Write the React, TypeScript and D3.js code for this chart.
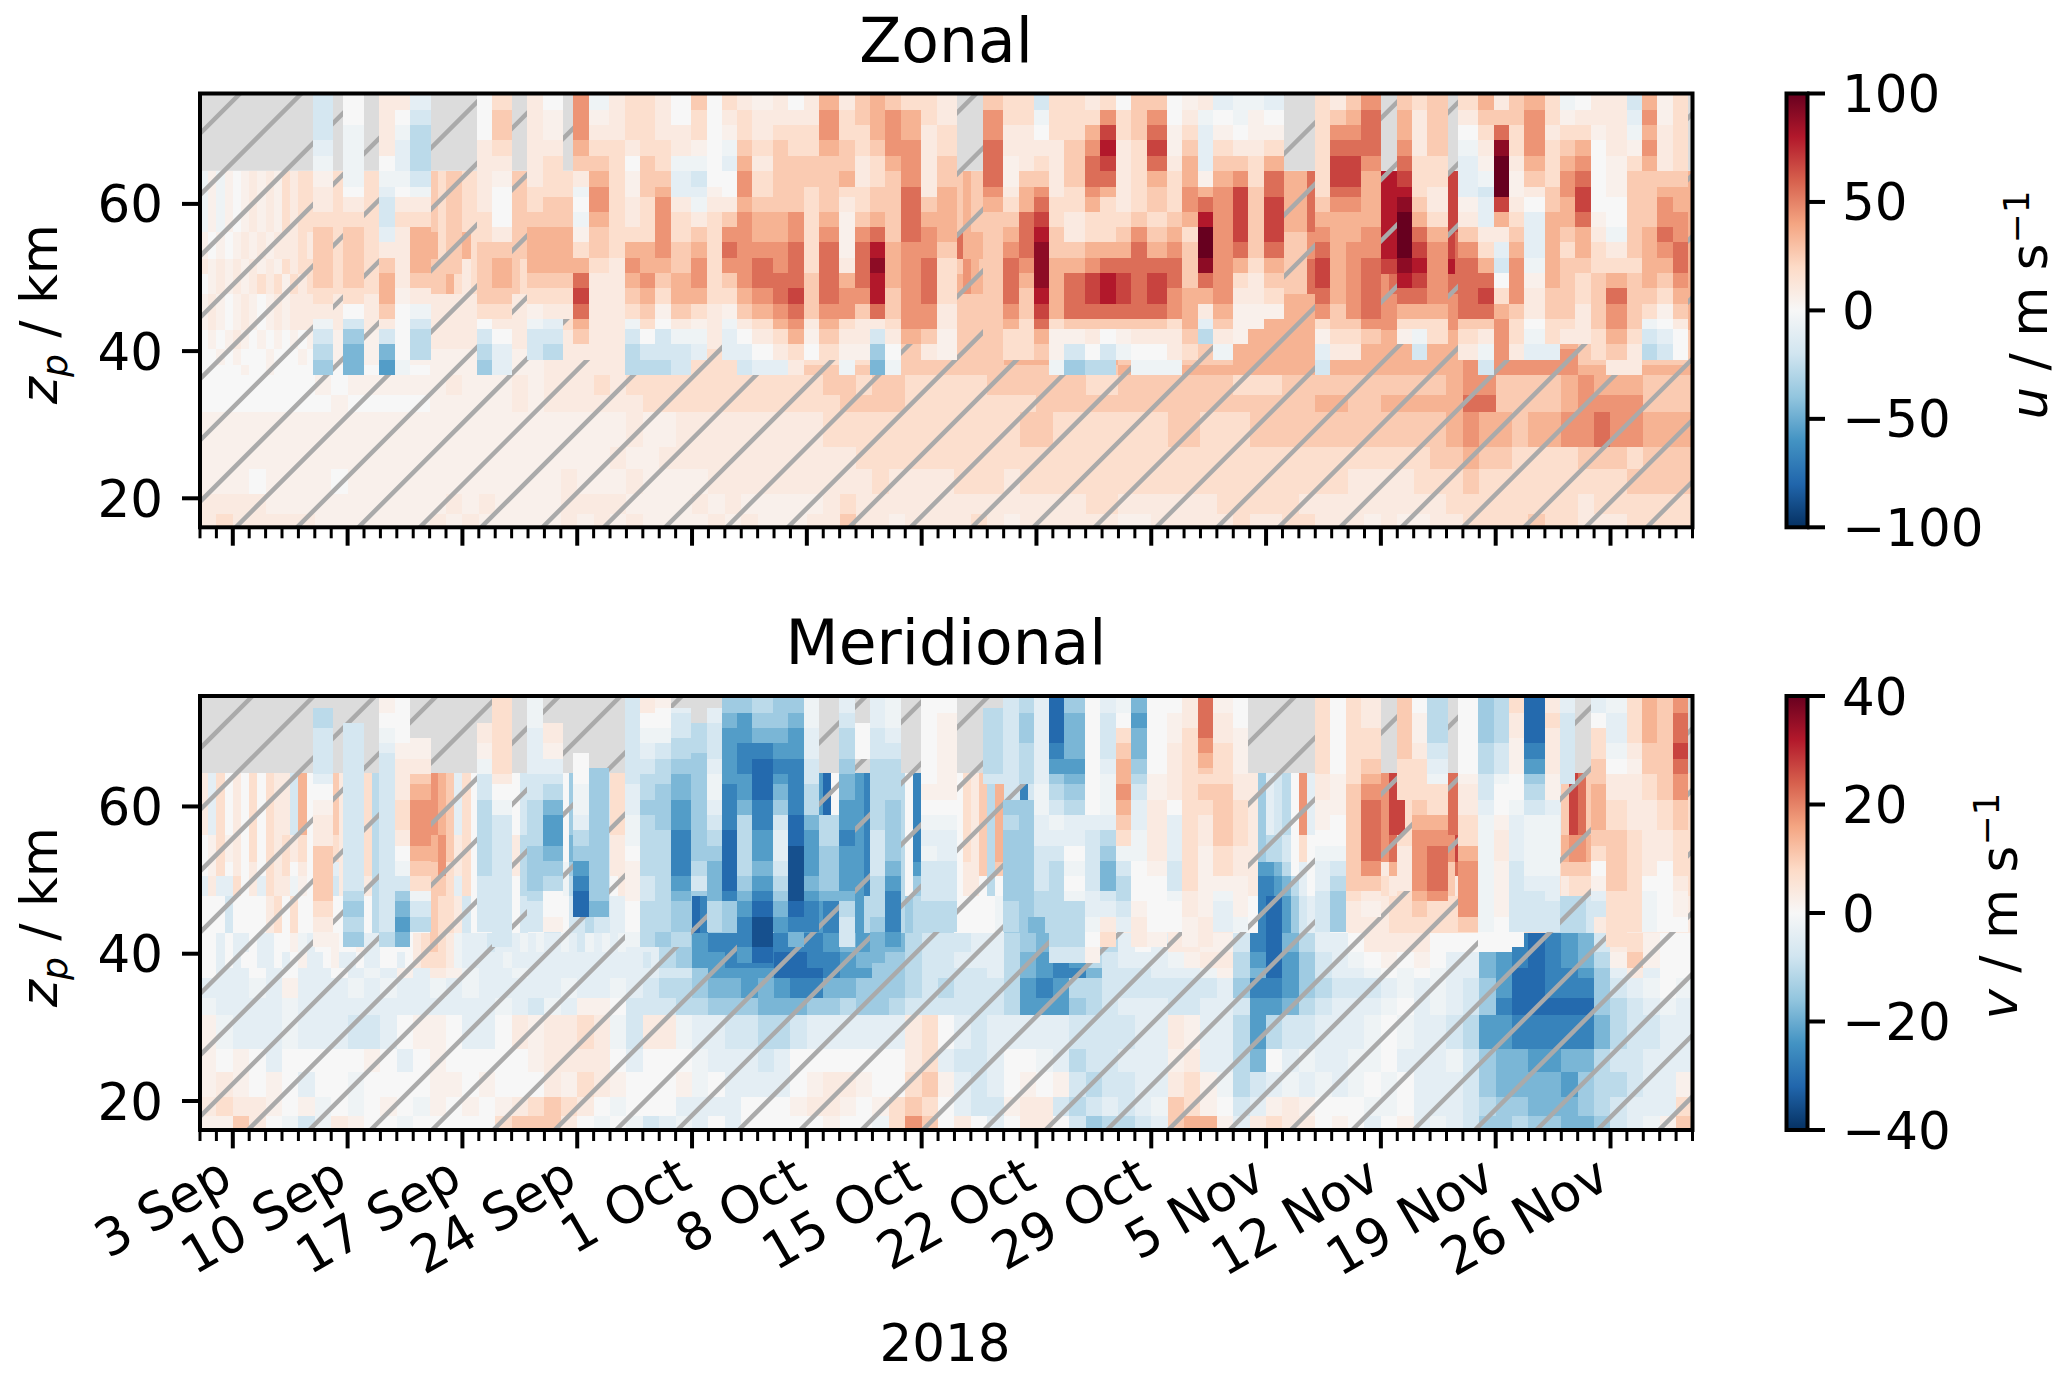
import * as d3 from 'd3';

const WIDTH = 2067;
const HEIGHT = 1379;
const FONT = '"DejaVu Sans", sans-serif';

// value codes, as fractions of vmax: digits/X are warm levels, a..i cool levels, + and - the faintest tints
const CODES: Record<string, number> = { '+': 0.05, '-': -0.05, X: 1 };
[0, 0.09, 0.17, 0.26, 0.35, 0.45, 0.56, 0.68, 0.8, 0.9].forEach((v, i) => { CODES[String(i)] = v; });
[0.1, 0.18, 0.27, 0.36, 0.46, 0.56, 0.67, 0.78, 0.88].forEach((v, i) => { CODES['abcdefghi'[i]] = -v; });

const tickDays = [2, 9, 16, 23, 30, 37, 44, 51, 58, 65, 72, 79, 86];
const tickLabels = ['3 Sep', '10 Sep', '17 Sep', '24 Sep', '1 Oct', '8 Oct', '15 Oct', '22 Oct', '29 Oct', '5 Nov', '12 Nov', '19 Nov', '26 Nov'];
const zTicks = [20, 40, 60];
const uBarTicks = [100, 50, 0, -50, -100];
const vBarTicks = [40, 20, 0, -20, -40];

// altitude edges (km) of the reanalysis layer, top to bottom
const lowerEdges = [64.5, 56.15, 52.5, 50.5, 47.8, 42.8, 40.3, 38.1, 36.7, 34, 31.7, 27, 24, 20.6, 17.9, 16.06];
// altitude edges (km) of the observed layer
const uEdges = [75, 72.75, 70.7, 68.7, 66.55, 64.5, 62.35, 61, 58.96, 56.9, 54.76, 52.7, 50.6, 48.6, 46.44, 44.4, 43, 40.9, 38.85, 36.8];
const vEdges = [75, 73.35, 72.67, 71.3, 70.63, 69.28, 68.6, 67.24, 66.47, 65.2, 64.4, 63.03, 60.9, 58.87, 56.74, 54.66, 52.62, 50.5, 48.46, 47.1, 44.98, 42.94, 40.86, 38.73];

// observed columns: runs of day edges since 1 Sep
const obsRuns = [
  [6.91, 8.13], [8.74, 10.0], [10.93, 11.89, 12.8, 14.07], [16.87, 17.79, 19.04],
  [19.96, 20.9, 22.15, 22.76, 23.72, 24.96, 25.91, 26.83, 27.74, 28.7, 29.94, 30.9, 31.81, 32.76, 33.68, 34.92, 35.87, 36.81, 37.74, 38.98, 39.94, 40.85, 41.79, 42.74, 43.96, 44.92, 46.18],
  [47.73, 48.98, 49.92, 50.85, 51.79, 52.7, 53.95, 54.88, 55.84, 56.77, 57.73, 58.94, 59.9, 60.84, 61.77, 62.99, 63.92, 64.88, 66.12],
  [67.99, 68.92, 69.86, 70.79, 72.03], [72.97, 73.9, 74.84, 76.08],
  [76.69, 77.95, 78.88, 79.82, 80.75, 81.99, 82.93, 83.86, 84.8, 85.73, 86.99, 87.93, 88.86, 89.8, 90.75],
];

// reanalysis rows, one group per week (1 Sep onwards)
const uLower = [
  '-+-+0+1+1+2122 2 32332222223322 2 2 3 33333333343333 3 3 44444444464444 44448844444477 4 4',
  '+0+0+1+1+11121 2 42334222223322 2 2 3 44444444644444 3 3 33333333353333 33338844444476 4 4',
  '1+1+1+1+1+2122 2 33331222233222 3 3 3 33333333354333 3 3 33333333363333 33337744444486 4 4',
  '0+1+1+1212+212 2 33421222233222 3 3 3 44444444454444 3 3 33333333363333 33335644444466 4 4',
  '+1+0+1+0+1+111 1 1 2 2 3 3 3 3 4 5 5 4',
  '0+0+1+0+0+0+0+ + 1 1 1 2 3 3 3 4 4 4 3',
  '00+0+000+000+0 + + 1 2 2 3 4 3 4 4 5 3',
  '00000+00+00000 0 + 1 2 3 3 3 4 4 4 5 4',
  '0000000 +0+++++ +1+++1+ 1112122 2222222 2223323 3222223 3333322 3333333 2223333 3333334 5533334 5444333',
  '0000000 0+00000 +++++1+ 1111112 2222222 2222333 3222222 2233333 3333333 3333344 3344444 6633334 5555333',
  '+++++++ +++++++ +++++++ +++++1+ +111111 1112222 2222222 2332222 2223322 2333333 3333334 5443445 5655444',
  '+++++++ +++++++ +++++++ ++++1++ 1111111 1111122 2222222 2222222 2222222 2222222 2222233 4332222 3332333',
  '+++0+++ +0+++++ +++++++ +1+++1+ +++1111 1111112 1111222 1222222 2222222 2222222 1111222 3222222 2223333',
  '1111+++ +++++++ +1+1+++ +1111++ ++1+1++ +++1211 1111111 1111122 1111112 2222111 1111112 2222222 1222222',
  '1211111 +++++++ 1+1++++ +1+1+1+ +++1+1+ ++11311 +111121 +111111 ++11111 2112211 1+1++11 2222322 1112222',
];

const vLower = [
  '1a201020211b40 1131112c111111 543a2000000b00 bb0dbbbb22bbbb d ffffffh0fffgff cc0gcccc0213c4 bbgbbbbbbbbbbb 2 111dabc05a1111 33335772222266 2222222222-a37 63222222222222',
  '0+2+1020212120 1121112c111111 45312000001c00 bb0ebbbb11bbbb d fffffffffffgff cc0gcccc0213c4 c 2 111dccb0201111 33335622222257 22222222220145 54222222222222',
  '0+201010212010 11a1112c111111 35212000001c00 bb-dbbbb11bbbb d fffffffffffgff cc0fcccc0113c3 c 2 111ffec0a01111 33331422222236 22222222220233 33222222222222',
  'a1aa201a211-+0 11b1111c111111 332a2000000c00 bb-cbbbb01bbbb d fffffffffffgff cc0dcccc0110c0 c 2 111ggfeca01111 33332122222231 22222222221212 2',
  '000b0000120200 00000+0c000000 3221b000000b00 bb0bbcbbaa0a00 ddddhgdddddddd ffffffggfffcff ccdccccc00000- dddeecc0000000 1 000ghhfdba0000 11111222222222 2222222222bccc cb111111111111',
  '00a0aa0aa00+-a 00+00+aa000012 321-aaabaaa-a- aa-ab-a-a-aaaa cdfggfg gggfefe ecbbbaa cdeeddc a0a11++ bghecaa 0111100 000ghgf eb12+00',
  '00a0a00aa0a0+a a0+aa0aa00a012 221-aaaaa-aaaa aaaaaaaaaaaaba cdffggg hhggfed dcbbaaa cefgfcb aaa-+11 cfhfdba -0+0+0a aefghgf ec+3+00',
  '0aa0a0a a0a-a+a 1+-aa-a aaaaaaa bbdffff hhhgffd dcbbbba cefggeb bbaaa-+ cehfdba a-0-0-a aefhhgg fda1a00',
  'aaa-a+a aa-a-aa -a-aaaa a-aa-ab ccdeefe fggeedd dcbcbbb cfgfccb bbbbbba dggfdcb bba-a-a bdfhhgg gdba-0-',
  '-aaaa-a aaaaaaa aaaa-ab -a++0bb bccddde eeddcdd cbbbbbb cfffdcb aaabbaa bffecba aa-0a-a bdghhhh hdcba-a',
  '+-aaa-a aabba0+ +0aa01+ 1121-b1 1-aabbc cbaaaaa a120aba aaaabbb baa1+aa cfcbbaa a-0-aab cffgggg gecbbaa',
  '+0+0a00 000+0a0 +00000+ 11110a0 00-aaab a000000 012abba 00-acbb aaa+1aa ce0a-aa --0aaa- bdeeffe ecbbaaa',
  '+1+0+0a 00-0000 ++0+000 1+21+00 0+-0aaa a0+11+0 023+aba 0+0+bcb baa12+- cba-a-a -0-0aaa bdeeeef dccbaa+',
  '1211+0+ -0-0+0- +0+0+12 3210-00 0aaaa00 0+11+0+ 2320abb +11bcba ba-32+0 ba+1+00 0--0aaa bcddeee dcbaaa2',
  '++310-b -1+00-0 0000233 310-0-b a-a0a00 000+00- 253010a 0110bdc cba344+ a12110+ 0a0+a-a bddcdde edba-+3',
];

// observed columns, each string runs from the top altitude down ('.' = no data)
const uColumns = [
  'bbba-+112333321-bcd', '00----012333320bdee', '11110-abba134431bef', '10-aa-0121111+0000-', 'abcccb-1244431-bcc.',
  '0001111122333320bcd', '23321+00013443210aa', '11111122344432+-bb.', '0++122233444321abc.', '.....2233444321....',
  '555431-0-+24676431.', '-+1234554332111111.', '111222222221111111.', '22210++11245432-bcc', '22223332224454320bc',
  '11122345555432+0bbc', '0011-aa122334431-bb', '322+-ba-1345542+-a.', '000000+1222222111..', '21+-a001356532+-aa.',
  '12234554555554310ab', '+11212234456654210a', '112333334455665421a', '0122333355666765421', '1122332222223331+0.',
  '455433334566665432.', '12233421+++145521+-', '33221122356665311+.', '4443223346898861bde', '355543333344433210-',
  '24455566665555554..', '221111134556665531.', '1122334444322211++.', '35566654333333333..', '2211++123456665422.',
  '221113446665433222.', 'b-0123567899987643.', '2221111223344442++-', '2223332211346663+bd', '124566542245776310c',
  '25787642224688630bc', '0221111123467763+-.', '333222223566666310-', '356764332346776310-', '00++12223456655211-',
  '+12344554233344432.', '1-aaa+468XX9641ac..', 'a0+23455555555431-.', '--013577776421+++..', '-++12233333211++...',
  'a0+24667776432+....', '2222222345677652+ab', '135677654444443321.', '345677654455555321.', '56665444455666653..',
  '34456789XXX98642+..', '2111222346787642-b.', '33332211245555422..', '210-aaa+1356666321.', '4321+-baa12467631-b',
  '1369XXX741ab024555.', '33221++12345553221.', '45554310aaa-+110-a.', '22122233444443322a.', '-+234554432333321..',
  '01245677644322111..', '11+00000+122333322.', '1111+++00-124655431', 'ba-+233333323333211', '454543333444432-bc.',
  '++111345565432+0ab.', '222223445566543100.',
];

const vColumns = [
  '.cccbbbbbba0+11333321+.', '...bbbbbbbbbbbbbbbcdcd.', '++00--abbbbbbbbbbbbbbc.', '000000++11112210-bdefe.', '.....+++1134555432-bc..',
  '...111++--bbcccccbbbb..', '222222222210-bbbbbbbbb.', '----aaaaaabbcccdddcbb..', '...111++aabceffedc00+..', '.......................',
  '.......0000--acdfghh...', '.........dddddddddde...', '.......................', 'bbbbbbbbbbbaa--0+++00-.', '1100--aabbccdccccbbccc.',
  '+000--bbcccdddcccccccd.', '.abbbcccddeeffgggfeddc.', '...ccccdddddddddcb.....', '.aabbbbbaa--abcdeeecc..', 'ddeefffffffggghhhhgdd..',
  'ddffffggggffeccccdefggf', 'ccddeegghhhhggffefghiih', 'ddddeeffggfedbaabcdef..', 'ddeeffffggggghhiiiihge.', '----aaaabbbccefffefgg..',
  '.............ccddde....', 'aabbccccddeeffgfffecbb.', '...00000...............', 'aaaabbbbccccccbbbcccdee', '----aabbccccddddefgggf.',
  '.......................', '00000000000+0-a-bbbcc..', '00++++++++++0-aabbbcc..', '.cccccccccb............', 'bbbbbbbbbbb.dcdddddcc..',
  'ccddddccccc.dddddddd...', 'aaaaaaaaaaa--aabbbcc...', 'hhhhhhggffdcb-abccccccb', 'ddeeeeeeffedcaa0-0-cccb', '0000000000000abbbbaa-0+',
  'aabbbbbbaa---acdeeba12.', '--0022334445432-bccba..', 'eeffeeeeddcbaa--000+11.', '0000000000++1111+0000+.', '00++++1111110aaabb-00..',
  '11112222222222222211++.', '666665544323211+++++11.', '++111122222333322+-aa..', '0000++++++1122211+++-..', '.......................',
  '.......................', '222222222211++0-aabbba.', '0000000000+++00-bcddd..', '222222222223333333211..', '1111222233456666531+...',
  '333333332222...111.....', '00++++11222234555543...', 'ccccccbbaa-22456665....', '0000000000+1122455553..', 'ddddddccccbba--------0.',
  'ccccccbbbb-00+11++++00.', '22111+++++00-aaabbbbb0.', 'hhhhhhggffdcb----abbb..', '1122111111++a----aabb..', 'aabbbbbbbbb............',
  '.......................', 'aa002222333444320+ab...', '--aaaa--00112233332222.', '22222211++11112222222..', '444444333322111110---..',
  '333333333333221100000..', '556666776655332221++0..',
];

const x = d3.scaleLinear().domain([0, 91]).range([200, 1692.5]);

const panels = [
  {
    title: 'Zonal', titleY: 62, vmax: 100, top: 93.5, bottom: 527.3, hatchStart: 701.7,
    lower: uLower, columns: uColumns, edges: uEdges, barTicks: uBarTicks,
    symbol: 'u', barLabelX: 2047, barLabelY: 305, zLabelY: 314,
  },
  {
    title: 'Meridional', titleY: 664, vmax: 40, top: 696, bottom: 1130, hatchStart: 1316.6,
    lower: vLower, columns: vColumns, edges: vEdges, barTicks: vBarTicks,
    symbol: 'v', barLabelX: 2017, barLabelY: 906, zLabelY: 917,
  },
];

const obsColumns = obsRuns.flatMap(run => d3.pairs(run));
const hatchSteps = d3.range(-7, 30);

function Panel({ p, index }: { p: (typeof panels)[number]; index: number }) {
  const y = d3.scaleLinear().domain([75, 16.06]).range([p.top, p.bottom]);
  const color = d3.scaleLinear<string>()
    .domain(d3.range(11).map(i => -p.vmax + (i * p.vmax) / 5))
    .range([...d3.schemeRdBu[11]].reverse());
  const value = (c: string) => CODES[c] * p.vmax;
  const barY = d3.scaleLinear().domain([p.vmax, -p.vmax]).range([p.top, p.bottom]);

  const lowerCells = p.lower.flatMap((row, r) => row.split(' ').flatMap((week, w) => {
    const step = 7 / week.length;
    return week.split('').map((c, i) => (
      <rect
        key={`l${r}-${w}-${i}`}
        x={x(w * 7 + i * step)}
        width={x(step) - x(0) + 0.5}
        y={y(lowerEdges[r])}
        height={y(lowerEdges[r + 1]) - y(lowerEdges[r]) + 0.5}
        fill={color(value(c))}
      />
    ));
  }));

  const obsCells = p.columns.flatMap((col, c) => col.split('').map((ch, r) => {
    if (ch === '.' || !obsColumns[c]) return null;
    const bottomKm = r + 1 < p.edges.length ? p.edges[r + 1] : p.edges[r] - 2.05;
    return (
      <rect
        key={`o${c}-${r}`}
        x={x(obsColumns[c][0])}
        width={x(obsColumns[c][1]) - x(obsColumns[c][0])}
        y={y(p.edges[r])}
        height={y(bottomKm) - y(p.edges[r])}
        fill={color(value(ch))}
      />
    );
  }));

  const clipId = `clip${index}`;
  const gradId = `bar${index}`;

  return (
    <g>
      <defs>
        <clipPath id={clipId}>
          <rect x={200} y={p.top} width={1492.5} height={p.bottom - p.top} />
        </clipPath>
        <linearGradient id={gradId} x1="0" y1="0" x2="0" y2="1">
          {d3.range(0, 1.001, 0.1).map(t => (
            <stop key={t} offset={t} stopColor={color(p.vmax - 2 * t * p.vmax)} />
          ))}
        </linearGradient>
      </defs>

      <g clipPath={`url(#${clipId})`}>
        <rect x={200} y={p.top} width={1492.5} height={y(64.5) - p.top} fill="#dcdcdc" />
        <g shapeRendering="crispEdges">{lowerCells}</g>
        {hatchSteps.map(k => {
          const c = p.hatchStart + k * 61.35;
          return <line key={k} x1={100} y1={c - 100} x2={1800} y2={c - 1800} stroke="#aaaaaa" strokeWidth={4.5} />;
        })}
        <g shapeRendering="crispEdges">{obsCells}</g>
      </g>

      <rect x={200} y={p.top} width={1492.5} height={p.bottom - p.top} fill="none" stroke="#000" strokeWidth={4} />

      {zTicks.map(t => (
        <g key={t}>
          <line x1={182} x2={200} y1={y(t)} y2={y(t)} stroke="#000" strokeWidth={4} />
          <text x={163} y={y(t)} dy="0.36em" textAnchor="end" fontSize={51.5} fontFamily={FONT}>{t}</text>
        </g>
      ))}
      {d3.range(0, 92).map(d => {
        const major = tickDays.includes(d);
        return (
          <line
            key={d}
            x1={x(d)} x2={x(d)}
            y1={p.bottom}
            y2={p.bottom + (major ? 18.4 : 11)}
            stroke="#000"
            strokeWidth={major ? 4 : 3}
          />
        );
      })}

      <text x={946} y={p.titleY} textAnchor="middle" fontSize={61.5} fontFamily={FONT}>{p.title}</text>

      <text transform={`translate(57,${p.zLabelY}) rotate(-90)`} textAnchor="middle" fontSize={51.5} fontFamily={FONT}>
        <tspan fontStyle="italic">z</tspan>
        <tspan fontStyle="italic" fontSize={36} dy={10}>p</tspan>
        <tspan dy={-10}> / km</tspan>
      </text>

      <rect x={1786.5} y={p.top} width={21} height={p.bottom - p.top} fill={`url(#${gradId})`} stroke="#000" strokeWidth={4} />
      {p.barTicks.map(t => (
        <g key={t}>
          <line x1={1807} x2={1825} y1={barY(t)} y2={barY(t)} stroke="#000" strokeWidth={4} />
          <text x={1842} y={barY(t)} dy="0.36em" fontSize={51.5} fontFamily={FONT}>{String(t).replace('-', '\u2212')}</text>
        </g>
      ))}
      <text transform={`translate(${p.barLabelX},${p.barLabelY}) rotate(-90)`} textAnchor="middle" fontSize={51.5} fontFamily={FONT}>
        <tspan fontStyle="italic">{p.symbol}</tspan>
        <tspan> / m s</tspan>
        <tspan fontSize={36} dy={-18}>{'\u22121'}</tspan>
      </text>
    </g>
  );
}

export default function App() {
  return (
    <svg
      width={WIDTH}
      height={HEIGHT}
      viewBox={`0 0 ${WIDTH} ${HEIGHT}`}
      style={{ position: 'absolute', left: 0, top: 0, background: '#fff' }}
    >
      {panels.map((p, i) => <Panel key={p.title} p={p} index={i} />)}
      {tickDays.map((d, i) => (
        <text
          key={d}
          transform={`translate(${x(d) + 2},1186) rotate(-30)`}
          textAnchor="end"
          fontSize={51.5}
          fontFamily={FONT}
        >
          {tickLabels[i]}
        </text>
      ))}
      <text x={945} y={1361} textAnchor="middle" fontSize={51.5} fontFamily={FONT}>2018</text>
    </svg>
  );
}
